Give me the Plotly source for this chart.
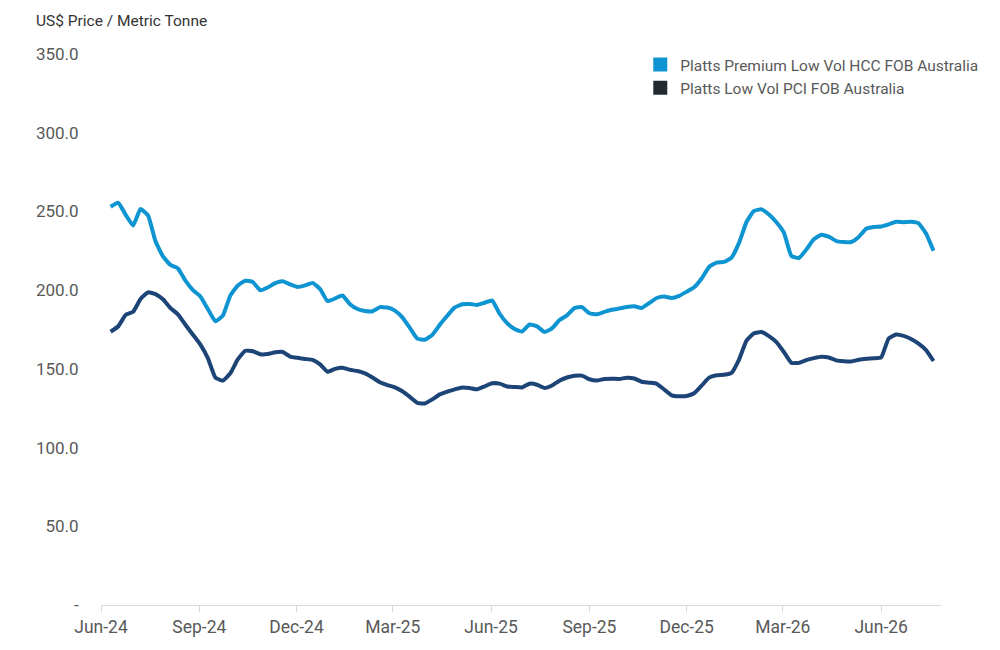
import pandas as pd
import plotly.graph_objects as go

start_date = "2024-06-10"
n_weeks = 111
dates = pd.date_range(start=start_date, periods=n_weeks, freq="7D")

hcc = [253, 255.5, 248, 241, 251.5, 247.5, 231, 221.4, 216, 213.8,
       206, 200, 196, 188, 180.2, 183.8, 196.5, 203, 206, 205.2,
       200, 201.7, 204.4, 205.6, 203.7, 202, 203, 204.6, 200.7, 193,
       194.7, 196.6, 191, 188, 186.8, 186.6, 189.2, 189, 187, 182.7,
       176, 169.2, 168.5, 171.6, 178, 183.7, 189, 191, 191.2, 190.6,
       192, 193.4, 185, 179, 175.3, 173.7, 178.2, 177, 173.4, 175.7,
       181, 184, 188.6, 189.2, 185.3, 184.7, 186.2, 187.5, 188.4, 189.3,
       189.7, 188.7, 191.8, 195, 195.9, 195, 196.4, 199, 201.8, 207.4,
       214.7, 217.5, 217.9, 220.7, 230, 243.3, 250.3, 251.3, 248, 243.1,
       236.5, 221.7, 220.4, 225.8, 232.3, 235.2, 234, 231.2, 230.6, 230.6,
       233.8, 239, 240.1, 240.4, 241.8, 243.4, 243.2, 243.4, 242.4, 236,
       225]

pci = [173.6, 176.9, 184.2, 186.2, 194.4, 198.6, 197.5, 194.2, 188.6, 184.6,
       178, 171.7, 165.4, 156.8, 144.5, 142.5, 147.2, 156, 161.5, 161.2,
       159.3, 159.4, 160.5, 160.7, 157.8, 157, 156.3, 155.7, 152.8, 148.2,
       150, 150.7, 149.4, 148.6, 147.1, 144.5, 141.5, 139.7, 138.3, 135.8,
       132.2, 128.4, 128, 130.6, 133.8, 135.6, 137, 138.2, 137.8, 137,
       138.9, 140.8, 140.6, 138.8, 138.5, 138.2, 140.6, 139.9, 137.8, 139.4,
       142.5, 144.5, 145.6, 145.7, 143.4, 142.6, 143.6, 143.7, 143.6, 144.4,
       143.9, 141.8, 141.2, 140.5, 136.9, 133.2, 132.6, 132.8, 134.5, 139.3,
       144.4, 145.9, 146.2, 147.4, 155.9, 167.9, 172.6, 173.4, 170.8, 167,
       160.7, 153.8, 153.8, 155.6, 156.8, 157.7, 157.2, 155.4, 154.9, 154.7,
       155.8, 156.4, 156.7, 157.3, 169.3, 171.8, 170.9, 169, 166, 161.9,
       155]

series_names = ["Platts Premium Low Vol HCC FOB Australia",
                "Platts Low Vol PCI FOB Australia"]
y_tick_vals = [0, 50, 100, 150, 200, 250, 300, 350]
y_tick_text = ["-", "50.0", "100.0", "150.0", "200.0", "250.0", "300.0", "350.0"]

HCC_COLOR = "#0f94d2"
PCI_COLOR = "#1d4476"
PCI_LEGEND = "#22292f"
FONT = "Roboto"

fig = go.Figure()
fig.add_trace(go.Scatter(x=dates, y=hcc, mode="lines",
                         line=dict(color=HCC_COLOR, width=4, shape="spline", smoothing=0.4),
                         showlegend=False, name=series_names[0]))
fig.add_trace(go.Scatter(x=dates, y=pci, mode="lines",
                         line=dict(color=PCI_COLOR, width=4, shape="spline", smoothing=0.4),
                         showlegend=False, name=series_names[1]))
# legend entries with square swatches
fig.add_trace(go.Scatter(x=[None], y=[None], mode="markers", name=series_names[0],
                         marker=dict(symbol="square", size=14, color=HCC_COLOR)))
fig.add_trace(go.Scatter(x=[None], y=[None], mode="markers", name=series_names[1],
                         marker=dict(symbol="square", size=14, color=PCI_LEGEND)))

fig.update_layout(
    width=1000, height=650,
    margin=dict(l=101, r=59, t=54, b=45),
    plot_bgcolor="white", paper_bgcolor="white",
    font=dict(family=FONT, size=17, color="#595959"),
    showlegend=True,
    legend=dict(x=0.642, y=1.011, xanchor="left", yanchor="top",
                font=dict(family=FONT, size=15.5, color="#595959"),
                itemsizing="trace", tracegroupgap=0, bgcolor="rgba(0,0,0,0)"),
    xaxis=dict(
        type="date",
        range=["2024-06-01", "2026-07-27"],
        tick0="2024-06-01", dtick="M3", tickformat="%b-%y",
        showgrid=False, zeroline=False,
        showline=True, linecolor="#d9d9d9", linewidth=1,
        ticks="outside", ticklen=6, tickcolor="#d9d9d9",
        tickfont=dict(family=FONT, size=17.5, color="#595959"),
    ),
    yaxis=dict(
        range=[0, 350],
        tickvals=y_tick_vals, ticktext=y_tick_text,
        showgrid=False, zeroline=False, showline=False,
        ticks="outside", ticklen=18, tickcolor="rgba(0,0,0,0)",
        tickfont=dict(family=FONT, size=17, color="#595959"),
    ),
    annotations=[dict(text="US$ Price / Metric Tonne", xref="paper", yref="paper",
                      x=(34 - 101) / 840, y=1.0, xanchor="left", yanchor="bottom",
                      yshift=22, showarrow=False,
                      font=dict(family=FONT, size=15.5, color="#333333"))],
)

fig.write_html("out.html")
